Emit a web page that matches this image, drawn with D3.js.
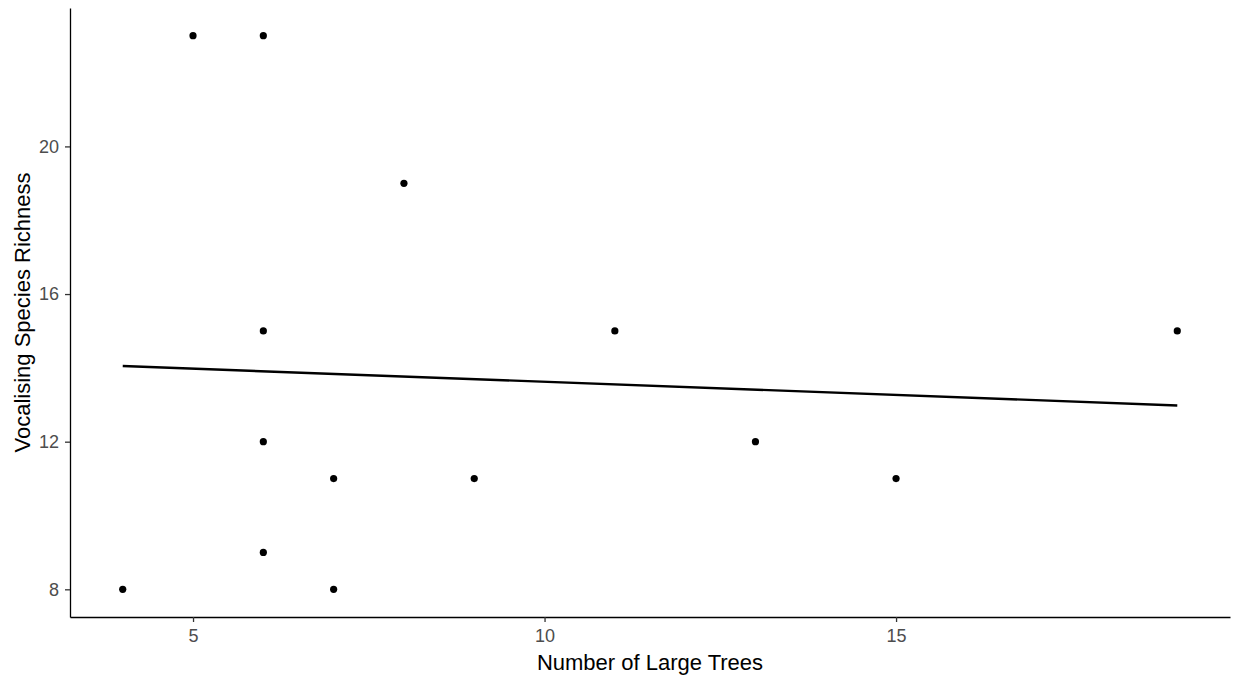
<!DOCTYPE html>
<html>
<head>
<meta charset="utf-8">
<script src="https://cdn.jsdelivr.net/npm/d3@7"></script>
<style>
  body { margin: 0; background: #fff; }
  svg { display: block; font-family: "Liberation Sans", Arial, sans-serif; }
</style>
</head>
<body>
<script>
// large trees per site vs vocalising species richness
const largeTrees = [4, 5, 6, 6, 6, 6, 7, 7, 8, 9, 11, 13, 15, 19];
const richness   = [8, 23, 23, 15, 12, 9, 11, 8, 19, 11, 15, 12, 11, 15];
const xTicks = [5, 10, 15];
const yTicks = [8, 12, 16, 20];

const points = largeTrees.map((x, i) => ({x: x, y: richness[i]}));

const width = 1234, height = 683;
const margin = {top: 8, right: 4, bottom: 66, left: 70};

const svg = d3.select("body").append("svg")
    .attr("width", width)
    .attr("height", height);

const x = d3.scaleLinear()
    .domain([3.25, 19.75])
    .range([margin.left, width - margin.right]);

const y = d3.scaleLinear()
    .domain([7.25, 23.75])
    .range([height - margin.bottom, margin.top]);

// least squares fit (geom_smooth method = lm, no se)
const mx = d3.mean(largeTrees), my = d3.mean(richness);
const slope = d3.sum(points, d => (d.x - mx) * (d.y - my)) / d3.sum(points, d => (d.x - mx) ** 2);
const intercept = my - slope * mx;
const xExt = d3.extent(largeTrees);

svg.append("line")
    .attr("x1", x(xExt[0]))
    .attr("y1", y(intercept + slope * xExt[0]))
    .attr("x2", x(xExt[1]))
    .attr("y2", y(intercept + slope * xExt[1]))
    .attr("stroke", "#000")
    .attr("stroke-width", 2.4);

svg.selectAll("circle")
    .data(points)
    .enter().append("circle")
    .attr("cx", d => x(d.x))
    .attr("cy", d => y(d.y))
    .attr("r", 3.6)
    .attr("fill", "#000");

const xAxis = svg.append("g")
    .attr("transform", `translate(0,${height - margin.bottom})`)
    .call(d3.axisBottom(x).tickValues(xTicks).tickSize(5).tickPadding(7).tickSizeOuter(0));

const yAxis = svg.append("g")
    .attr("transform", `translate(${margin.left},0)`)
    .call(d3.axisLeft(y).tickValues(yTicks).tickSize(5).tickPadding(6).tickSizeOuter(0));

[xAxis, yAxis].forEach(g => {
    g.select(".domain").attr("stroke", "#000").attr("stroke-width", 1.3);
    g.selectAll(".tick line").attr("stroke", "#333").attr("stroke-width", 1.3);
    g.selectAll(".tick text")
        .attr("fill", "#4d4d4d")
        .style("font-size", "18px")
        .style("font-family", "'Liberation Sans', Arial, sans-serif");
});

svg.append("text")
    .attr("x", (margin.left + width - margin.right) / 2)
    .attr("y", 670)
    .attr("text-anchor", "middle")
    .attr("fill", "#000")
    .style("font-size", "22px")
    .text("Number of Large Trees");

svg.append("text")
    .attr("transform", `translate(30,${(margin.top + height - margin.bottom) / 2}) rotate(-90)`)
    .attr("text-anchor", "middle")
    .attr("fill", "#000")
    .style("font-size", "22px")
    .text("Vocalising Species Richness");
</script>
</body>
</html>
